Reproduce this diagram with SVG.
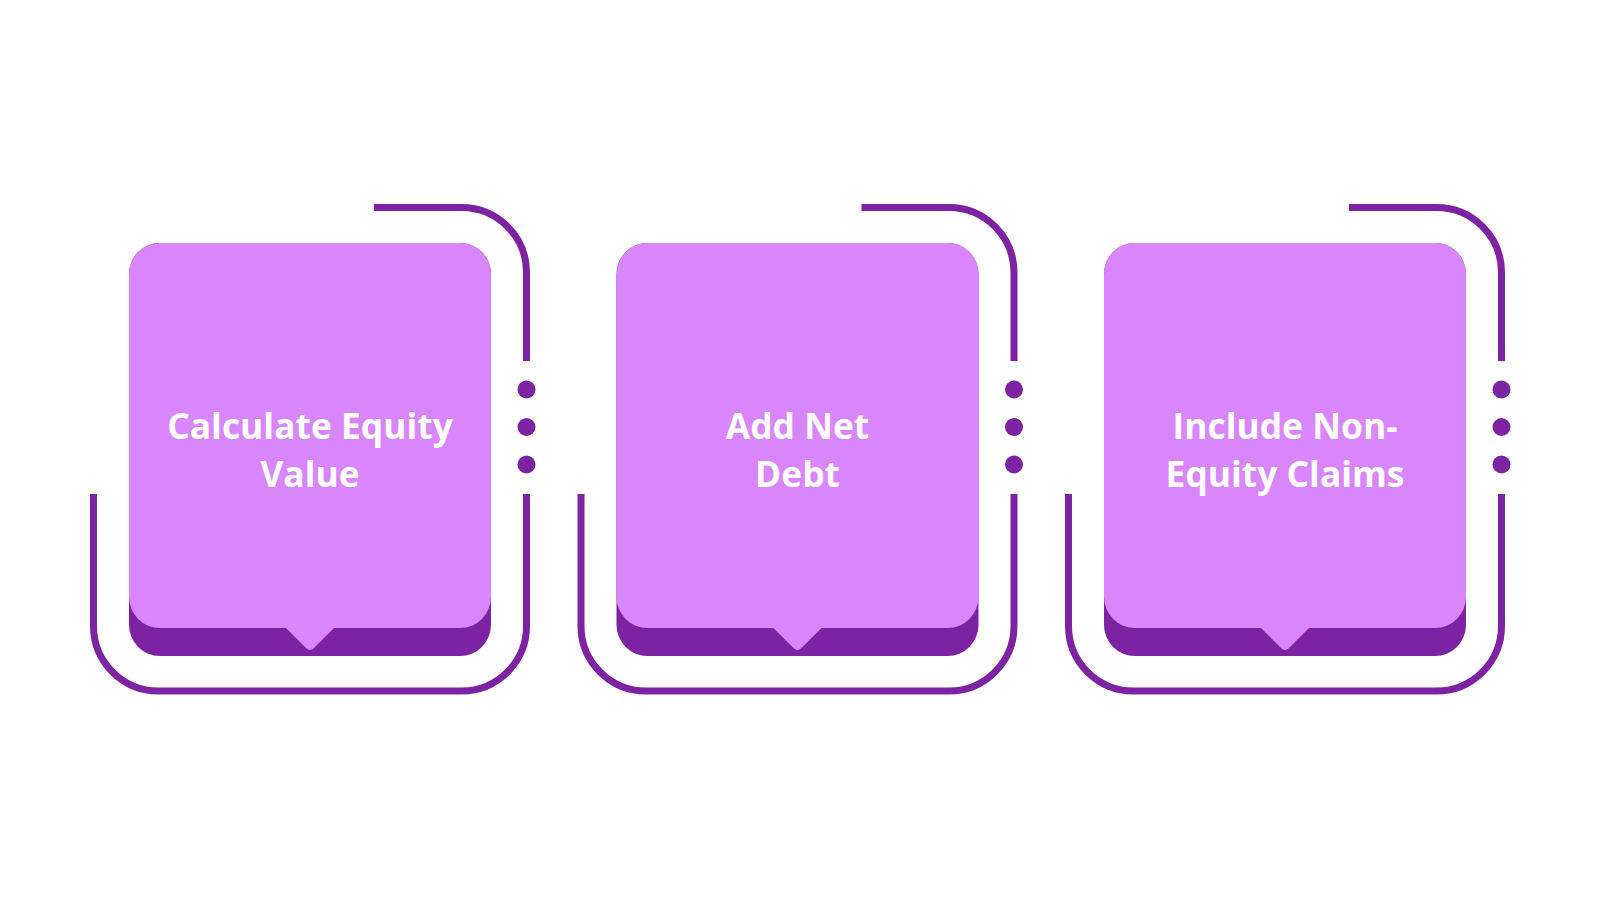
<svg xmlns="http://www.w3.org/2000/svg" width="1600" height="900" viewBox="0 0 1600 900">
  <style>
    .frame { fill: none; stroke: #7D22A3; stroke-width: 7; }
    .dot { fill: #7D22A3; }
    .base { fill: #7D22A3; }
    .face { fill: #D986FC; }
    .label { font-family: "Open Sans", "Liberation Sans", sans-serif; font-weight: 700; font-size: 35.4px; fill: #FFFFFF; text-anchor: middle; }
  </style>
  <defs>
    <g id="card">
      <path class="frame" d="M 374 207.5 H 461.5 A 65 65 0 0 1 526.5 272.5 V 361"/>
      <path class="frame" d="M 526.5 494 V 626 A 65 65 0 0 1 461.5 691 H 158.5 A 65 65 0 0 1 93.5 626 V 494"/>
      <circle class="dot" cx="526.5" cy="389.5" r="9"/>
      <circle class="dot" cx="526.5" cy="427" r="9"/>
      <circle class="dot" cx="526.5" cy="464.5" r="9"/>
      <rect class="base" x="129" y="243" width="362" height="413" rx="31"/>
      <rect class="face" x="129" y="243" width="362" height="385" rx="31"/>
      <path class="face" d="M 285 627 L 306 648 Q 310 652 314 648 L 335 627 Z"/>
    </g>
  </defs>
  <rect width="1600" height="900" fill="#FFFFFF"/>
  <g id="connectors"/>
  <g id="node-1">
    <use href="#card"/>
    <text class="label" x="310" y="438.5">Calculate Equity</text>
    <text class="label" x="310" y="487">Value</text>
  </g>
  <g id="node-2">
    <use href="#card" transform="translate(487.5 0)"/>
    <text class="label" x="797.5" y="438.5">Add Net</text>
    <text class="label" x="797.5" y="487">Debt</text>
  </g>
  <g id="node-3">
    <use href="#card" transform="translate(975 0)"/>
    <text class="label" x="1285" y="438.5">Include Non-</text>
    <text class="label" x="1285" y="487">Equity Claims</text>
  </g>
</svg>
